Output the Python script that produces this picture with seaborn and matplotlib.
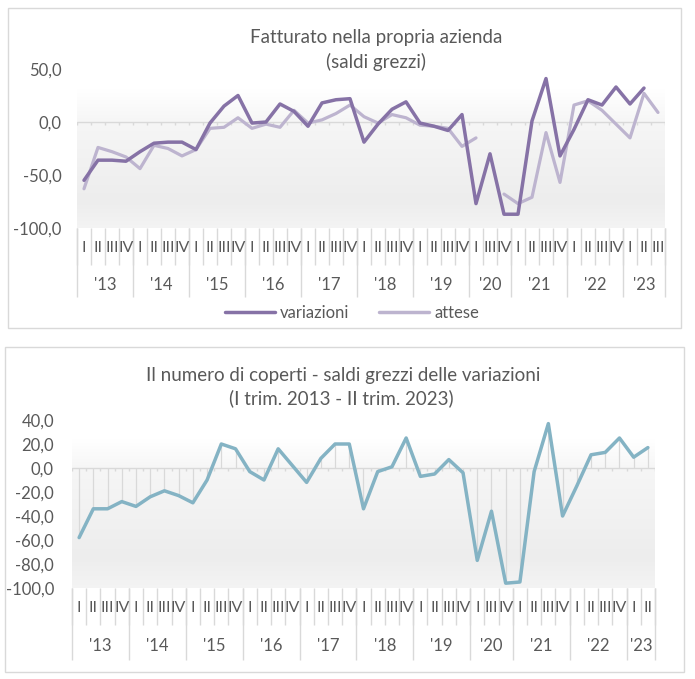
import numpy as np
import pandas as pd
import seaborn as sns
import matplotlib.pyplot as plt
from matplotlib.patches import Rectangle
from matplotlib.lines import Line2D
from matplotlib.ticker import FuncFormatter

# anni e trimestri (nel 2020 manca il II trimestre)
anni_fatt = ["'13", "'14", "'15", "'16", "'17", "'18", "'19", "'20", "'21", "'22", "'23"]
trim_fatt = [["I", "II", "III", "IV"]] * 7 + [["I", "III", "IV"]] + [["I", "II", "III", "IV"]] * 2 + [["I", "II", "III"]]

anni_cop = anni_fatt
trim_cop = [["I", "II", "III", "IV"]] * 7 + [["I", "III", "IV"]] + [["I", "II", "III", "IV"]] * 2 + [["I", "II"]]

variazioni = [-55, -36, -36, -37, -28, -20, -19, -19, -26, -1, 15, 25, -1, 0, 17, 10,
              -4, 18, 21, 22, -19, -2, 12, 19, -1, -4, -8, 7, -77, -30, -87, -87,
              1, 41, -32, -7, 21, 16, 33, 17, 32, np.nan]
attese = [-63, -24, -28, -33, -44, -22, -25, -32, -26, -6, -5, 4, -6, -2, -5, 11,
          -1, 2, 8, 16, 5, -1, 7, 4, -3, -4, -6, -23, -15, np.nan, -68, -77,
          -71, -10, -57, 16, 20, 11, -2, -15, 27, 9]
coperti = [-58, -34, -34, -28, -32, -24, -19, -23, -29, -10, 20, 16, -3, -10, 16, 2,
           -12, 8, 20, 20, -34, -3, 1, 25, -7, -5, 7, -4, -77, -36, -96, -95,
           -3, 37, -40, -15, 11, 13, 25, 9, 17]

GRIGIO = "#595959"
LINEA = "#d9d9d9"
C_VAR = "#8672a6"
C_ATT = "#bdb4cf"
C_COP = "#84b3c4"

sns.set_theme(style="white")
plt.rcParams['font.family'] = ['Lato', 'DejaVu Sans']

fig = plt.figure(figsize=(6.95, 6.79), dpi=100)
W, H = 695, 679


def ax_rect(x0, x1, ytop, ybot):
    return [x0 / W, 1 - ybot / H, (x1 - x0) / W, (ybot - ytop) / H]


def sfondo(ax, ymin, ymax, n):
    ys = np.linspace(ymax, ymin, 200)
    g = np.interp(ys, [ymin, -75, 0, ymax * 0.6, ymax], [0.955, 0.93, 0.965, 1.0, 1.0])
    img = np.repeat(g[:, None, None], 3, axis=2)
    ax.imshow(img, extent=(-0.5, n - 0.5, ymin, ymax), aspect='auto', zorder=0)


def asse_categorie(ax, anni, trim, ymin, ymax, h_px, q_lab, y_lab, q_sep, y_sep, tick_u):
    n = sum(len(t) for t in trim)
    px = 1.0 / h_px
    ax.axhline(0, color=LINEA, lw=1, zorder=1)
    confini = np.arange(n + 1) - 0.5
    ax.vlines(confini, -tick_u, 0, color=LINEA, lw=1, zorder=1)
    tr = ax.get_xaxis_transform()
    pos = 0
    ax.vlines(confini, -q_sep * px, 0, color=LINEA, lw=1, transform=tr, clip_on=False)
    for anno, qs in zip(anni, trim):
        for k, q in enumerate(qs):
            ax.text(pos + k, -q_lab * px, q, ha='center', va='center', color=GRIGIO,
                    fontsize=11.5, transform=tr, clip_on=False)
        ax.text(pos + (len(qs) - 1) / 2, -y_lab * px, anno, ha='center', va='center',
                color=GRIGIO, fontsize=12, transform=tr, clip_on=False)
        ax.vlines([pos - 0.5], -y_sep * px, 0, color=LINEA, lw=1, transform=tr, clip_on=False)
        pos += len(qs)
    ax.vlines([pos - 0.5], -y_sep * px, 0, color=LINEA, lw=1, transform=tr, clip_on=False)
    ax.set_xlim(-0.5, n - 0.5)
    ax.set_ylim(ymin, ymax)
    ax.set_xticks([])
    ax.set_xlabel("")
    ax.set_ylabel("")
    for s in ax.spines.values():
        s.set_visible(False)
    ax.yaxis.set_major_formatter(FuncFormatter(lambda v, p: f"{v:.1f}".replace(".", ",")))
    ax.tick_params(axis='y', length=0, labelsize=12, labelcolor=GRIGIO)


# --- pannello superiore ---
fig.patches.append(Rectangle((8 / W, 1 - 328 / H), 673 / W, 320 / H, transform=fig.transFigure,
                             fill=False, edgecolor=LINEA, lw=1))
ax1 = fig.add_axes(ax_rect(77, 665, 69, 228))
n1 = len(variazioni)
df1 = pd.DataFrame({'x': np.arange(n1), 'variazioni': variazioni, 'attese': attese})
df1['tratto'] = np.where(df1.index < 29, 0, 1)
sfondo(ax1, -100, 50, n1)
sns.lineplot(data=df1, x='x', y='attese', units='tratto', estimator=None, color=C_ATT,
             lw=2.3, ax=ax1, zorder=3)
sns.lineplot(data=df1, x='x', y='variazioni', color=C_VAR, lw=2.5, ax=ax1, zorder=4)
ax1.set_yticks([-100, -50, 0, 50])
ax1.tick_params(axis='y', pad=11)
asse_categorie(ax1, anni_fatt, trim_fatt, -100, 50, 159, 20, 57, 37, 69, 2.8)
fig.text(376 / W, 1 - 38 / H, "Fatturato nella propria azienda", ha='center', va='center',
         fontsize=13.5, color=GRIGIO)
fig.text(376 / W, 1 - 62 / H, "(saldi grezzi)", ha='center', va='center',
         fontsize=13.5, color=GRIGIO)
maniglie = [Line2D([], [], color=C_VAR, lw=2.5), Line2D([], [], color=C_ATT, lw=2.5)]
fig.legend(maniglie, ['variazioni', 'attese'], loc='center', bbox_to_anchor=(352 / W, 1 - 313 / H),
           ncol=2, frameon=False, fontsize=12, handlelength=3.0, columnspacing=1.8,
           handletextpad=0.3, labelcolor=GRIGIO)

# --- pannello inferiore ---
fig.patches.append(Rectangle((5 / W, 1 - 672 / H), 679 / W, 325 / H, transform=fig.transFigure,
                             fill=False, edgecolor=LINEA, lw=1))
ax2 = fig.add_axes(ax_rect(72, 655, 420, 588))
n2 = len(coperti)
df2 = pd.DataFrame({'x': np.arange(n2), 'coperti': coperti})
sfondo(ax2, -100, 40, n2)
ax2.vlines(df2['x'], 0, df2['coperti'], color=LINEA, lw=0.9, zorder=2)
sns.lineplot(data=df2, x='x', y='coperti', color=C_COP, lw=2.5, ax=ax2, zorder=4)
ax2.set_yticks(np.arange(-100, 41, 20))
ax2.tick_params(axis='y', pad=13)
asse_categorie(ax2, anni_cop, trim_cop, -100, 40, 168, 20, 58, 37, 72, 2.5)
fig.text(343 / W, 1 - 375 / H, "Il numero di coperti - saldi grezzi delle variazioni",
         ha='center', va='center', fontsize=13.5, color=GRIGIO)
fig.text(341 / W, 1 - 398 / H, "(I trim. 2013 - II trim. 2023)",
         ha='center', va='center', fontsize=13.5, color=GRIGIO)

fig.savefig("out.png", dpi=100)
